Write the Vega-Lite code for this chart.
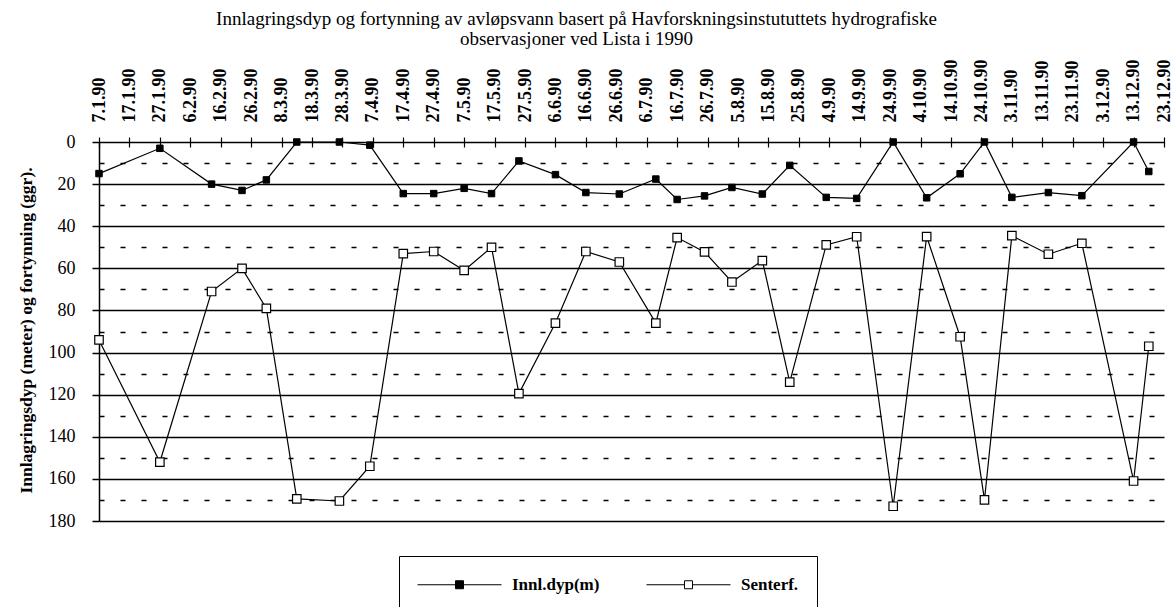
{
  "$schema": "https://vega.github.io/schema/vega-lite/v6.json",
  "width": 1065,
  "height": 379,
  "autosize": {"type": "none"},
  "padding": {"left": 99, "top": 142, "right": 9, "bottom": 86},
  "background": "white",
  "title": {
    "text": ["Innlagringsdyp og fortynning av avløpsvann basert på Havforskningsinstututtets hydrografiske", "observasjoner ved Lista i 1990"],
    "font": "Liberation Serif, Times New Roman, serif",
    "fontSize": 19,
    "fontWeight": "normal",
    "color": "black",
    "anchor": "middle",
    "dx": -55,
    "offset": 10,
    "lineHeight": 20
  },
  "config": {"view": {"stroke": null}, "font": "Liberation Serif, Times New Roman, serif"},
  "data": {
    "values": [
      {"dato": "1990-01-07", "serie": "Innl.dyp(m)", "verdi": 15},
      {"dato": "1990-01-27", "serie": "Innl.dyp(m)", "verdi": 3},
      {"dato": "1990-02-13", "serie": "Innl.dyp(m)", "verdi": 20},
      {"dato": "1990-02-23", "serie": "Innl.dyp(m)", "verdi": 23},
      {"dato": "1990-03-03", "serie": "Innl.dyp(m)", "verdi": 18},
      {"dato": "1990-03-13", "serie": "Innl.dyp(m)", "verdi": 0},
      {"dato": "1990-03-27", "serie": "Innl.dyp(m)", "verdi": 0},
      {"dato": "1990-04-06", "serie": "Innl.dyp(m)", "verdi": 1.5},
      {"dato": "1990-04-17", "serie": "Innl.dyp(m)", "verdi": 24.5},
      {"dato": "1990-04-27", "serie": "Innl.dyp(m)", "verdi": 24.5},
      {"dato": "1990-05-07", "serie": "Innl.dyp(m)", "verdi": 22},
      {"dato": "1990-05-16", "serie": "Innl.dyp(m)", "verdi": 24.5},
      {"dato": "1990-05-25", "serie": "Innl.dyp(m)", "verdi": 9},
      {"dato": "1990-06-06", "serie": "Innl.dyp(m)", "verdi": 15.5},
      {"dato": "1990-06-16", "serie": "Innl.dyp(m)", "verdi": 24},
      {"dato": "1990-06-27", "serie": "Innl.dyp(m)", "verdi": 24.7},
      {"dato": "1990-07-09", "serie": "Innl.dyp(m)", "verdi": 17.6},
      {"dato": "1990-07-16", "serie": "Innl.dyp(m)", "verdi": 27.3},
      {"dato": "1990-07-25", "serie": "Innl.dyp(m)", "verdi": 25.6},
      {"dato": "1990-08-03", "serie": "Innl.dyp(m)", "verdi": 21.6},
      {"dato": "1990-08-13", "serie": "Innl.dyp(m)", "verdi": 24.7},
      {"dato": "1990-08-22", "serie": "Innl.dyp(m)", "verdi": 11.1},
      {"dato": "1990-09-03", "serie": "Innl.dyp(m)", "verdi": 26.3},
      {"dato": "1990-09-13", "serie": "Innl.dyp(m)", "verdi": 26.8},
      {"dato": "1990-09-25", "serie": "Innl.dyp(m)", "verdi": 0},
      {"dato": "1990-10-06", "serie": "Innl.dyp(m)", "verdi": 26.5},
      {"dato": "1990-10-17", "serie": "Innl.dyp(m)", "verdi": 15.1},
      {"dato": "1990-10-25", "serie": "Innl.dyp(m)", "verdi": 0},
      {"dato": "1990-11-03", "serie": "Innl.dyp(m)", "verdi": 26.3},
      {"dato": "1990-11-15", "serie": "Innl.dyp(m)", "verdi": 24},
      {"dato": "1990-11-26", "serie": "Innl.dyp(m)", "verdi": 25.5},
      {"dato": "1990-12-13", "serie": "Innl.dyp(m)", "verdi": 0},
      {"dato": "1990-12-18", "serie": "Innl.dyp(m)", "verdi": 14},
      {"dato": "1990-01-07", "serie": "Senterf.", "verdi": 94},
      {"dato": "1990-01-27", "serie": "Senterf.", "verdi": 152},
      {"dato": "1990-02-13", "serie": "Senterf.", "verdi": 71},
      {"dato": "1990-02-23", "serie": "Senterf.", "verdi": 60},
      {"dato": "1990-03-03", "serie": "Senterf.", "verdi": 79},
      {"dato": "1990-03-13", "serie": "Senterf.", "verdi": 169.5},
      {"dato": "1990-03-27", "serie": "Senterf.", "verdi": 170.5},
      {"dato": "1990-04-06", "serie": "Senterf.", "verdi": 154},
      {"dato": "1990-04-17", "serie": "Senterf.", "verdi": 53},
      {"dato": "1990-04-27", "serie": "Senterf.", "verdi": 52},
      {"dato": "1990-05-07", "serie": "Senterf.", "verdi": 61},
      {"dato": "1990-05-16", "serie": "Senterf.", "verdi": 50},
      {"dato": "1990-05-25", "serie": "Senterf.", "verdi": 119.5},
      {"dato": "1990-06-06", "serie": "Senterf.", "verdi": 86},
      {"dato": "1990-06-16", "serie": "Senterf.", "verdi": 52},
      {"dato": "1990-06-27", "serie": "Senterf.", "verdi": 57},
      {"dato": "1990-07-09", "serie": "Senterf.", "verdi": 86},
      {"dato": "1990-07-16", "serie": "Senterf.", "verdi": 45.4},
      {"dato": "1990-07-25", "serie": "Senterf.", "verdi": 52.2},
      {"dato": "1990-08-03", "serie": "Senterf.", "verdi": 66.5},
      {"dato": "1990-08-13", "serie": "Senterf.", "verdi": 56.3},
      {"dato": "1990-08-22", "serie": "Senterf.", "verdi": 114},
      {"dato": "1990-09-03", "serie": "Senterf.", "verdi": 48.9},
      {"dato": "1990-09-13", "serie": "Senterf.", "verdi": 45},
      {"dato": "1990-09-25", "serie": "Senterf.", "verdi": 173},
      {"dato": "1990-10-06", "serie": "Senterf.", "verdi": 44.9},
      {"dato": "1990-10-17", "serie": "Senterf.", "verdi": 92.5},
      {"dato": "1990-10-25", "serie": "Senterf.", "verdi": 170},
      {"dato": "1990-11-03", "serie": "Senterf.", "verdi": 44.5},
      {"dato": "1990-11-15", "serie": "Senterf.", "verdi": 53.3},
      {"dato": "1990-11-26", "serie": "Senterf.", "verdi": 48.1},
      {"dato": "1990-12-13", "serie": "Senterf.", "verdi": 161},
      {"dato": "1990-12-18", "serie": "Senterf.", "verdi": 97}
    ]
  },
  "encoding": {
    "x": {
      "field": "dato",
      "type": "temporal",
      "scale": {
        "type": "utc",
        "domain": [{"year": 1990, "month": 1, "date": 7, "utc": true}, {"year": 1990, "month": 12, "date": 23, "utc": true}]
      },
      "axis": {
        "orient": "top",
        "title": null,
        "values": [
          {"year": 1990, "month": 1, "date": 7, "utc": true},
          {"year": 1990, "month": 1, "date": 17, "utc": true},
          {"year": 1990, "month": 1, "date": 27, "utc": true},
          {"year": 1990, "month": 2, "date": 6, "utc": true},
          {"year": 1990, "month": 2, "date": 16, "utc": true},
          {"year": 1990, "month": 2, "date": 26, "utc": true},
          {"year": 1990, "month": 3, "date": 8, "utc": true},
          {"year": 1990, "month": 3, "date": 18, "utc": true},
          {"year": 1990, "month": 3, "date": 28, "utc": true},
          {"year": 1990, "month": 4, "date": 7, "utc": true},
          {"year": 1990, "month": 4, "date": 17, "utc": true},
          {"year": 1990, "month": 4, "date": 27, "utc": true},
          {"year": 1990, "month": 5, "date": 7, "utc": true},
          {"year": 1990, "month": 5, "date": 17, "utc": true},
          {"year": 1990, "month": 5, "date": 27, "utc": true},
          {"year": 1990, "month": 6, "date": 6, "utc": true},
          {"year": 1990, "month": 6, "date": 16, "utc": true},
          {"year": 1990, "month": 6, "date": 26, "utc": true},
          {"year": 1990, "month": 7, "date": 6, "utc": true},
          {"year": 1990, "month": 7, "date": 16, "utc": true},
          {"year": 1990, "month": 7, "date": 26, "utc": true},
          {"year": 1990, "month": 8, "date": 5, "utc": true},
          {"year": 1990, "month": 8, "date": 15, "utc": true},
          {"year": 1990, "month": 8, "date": 25, "utc": true},
          {"year": 1990, "month": 9, "date": 4, "utc": true},
          {"year": 1990, "month": 9, "date": 14, "utc": true},
          {"year": 1990, "month": 9, "date": 24, "utc": true},
          {"year": 1990, "month": 10, "date": 4, "utc": true},
          {"year": 1990, "month": 10, "date": 14, "utc": true},
          {"year": 1990, "month": 10, "date": 24, "utc": true},
          {"year": 1990, "month": 11, "date": 3, "utc": true},
          {"year": 1990, "month": 11, "date": 13, "utc": true},
          {"year": 1990, "month": 11, "date": 23, "utc": true},
          {"year": 1990, "month": 12, "date": 3, "utc": true},
          {"year": 1990, "month": 12, "date": 13, "utc": true},
          {"year": 1990, "month": 12, "date": 23, "utc": true}
        ],
        "labelExpr": "utcFormat(datum.value, '%-d.%-m.%y')",
        "labelAngle": -90,
        "labelFont": "Liberation Serif, Times New Roman, serif",
        "labelFontWeight": "bold",
        "labelFontSize": 18,
        "labelColor": "black",
        "labelPadding": 15,
        "labelOverlap": false,
        "labelBound": false,
        "labelFlush": false,
        "tickSize": 10,
        "tickColor": "black",
        "tickWidth": 1.2,
        "offset": -5,
        "domain": false,
        "grid": false
      }
    },
    "y": {
      "field": "verdi",
      "type": "quantitative",
      "scale": {"domain": [0, 180], "reverse": true, "nice": false, "zero": false},
      "axis": {
        "values": [0, 10, 20, 30, 40, 50, 60, 70, 80, 90, 100, 110, 120, 130, 140, 150, 160, 170, 180],
        "labelExpr": "datum.value % 20 === 0 ? datum.label : ''",
        "labelFont": "Liberation Serif, Times New Roman, serif",
        "labelFontSize": 18,
        "labelColor": "black",
        "labelPadding": 17,
        "tickSize": 7,
        "tickColor": "black",
        "tickWidth": 1.5,
        "tickOpacity": {"condition": {"test": "datum.value % 20 === 10", "value": 0}, "value": 1},
        "grid": true,
        "gridColor": "black",
        "gridOpacity": 1,
        "gridWidth": 1.5,
        "gridDash": {"condition": {"test": "datum.value % 20 === 10", "value": [5, 16]}, "value": []},
        "domain": true,
        "domainColor": "black",
        "domainWidth": 1.5,
        "title": "Innlagringsdyp (meter) og fortynning (ggr).",
        "titleFont": "Liberation Serif, Times New Roman, serif",
        "titleFontWeight": "bold",
        "titleFontSize": 17.5,
        "titleColor": "black",
        "titleAngle": -90,
        "titleAlign": "center",
        "titleBaseline": "alphabetic",
        "titleX": -68,
        "titleY": 188
      }
    }
  },
  "layer": [
    {
      "mark": {"type": "line", "color": "black", "strokeWidth": 1.2},
      "encoding": {"detail": {"field": "serie"}}
    },
    {
      "transform": [{"filter": "datum.serie === 'Innl.dyp(m)'"}],
      "mark": {"type": "point", "shape": "square", "filled": true, "stroke": "black", "strokeWidth": 1, "opacity": 1, "size": 42},
      "encoding": {
        "fill": {
          "field": "serie",
          "type": "nominal",
          "scale": {"domain": ["Innl.dyp(m)", "Senterf."], "range": ["black", "white"]},
          "legend": {
            "orient": "none",
            "legendX": 300,
            "legendY": 414,
            "direction": "horizontal",
            "columns": 2,
            "gridAlign": "all",
            "title": null,
            "symbolType": "M-1,0H2.8M3.6,0H7.4M2.8,-0.4H3.6V0.4H2.8Z",
            "symbolSize": 400,
            "symbolStrokeColor": "black",
            "symbolStrokeWidth": 1,
            "labelFont": "Liberation Serif, Times New Roman, serif",
            "labelFontWeight": "bold",
            "labelFontSize": 17,
            "labelColor": "black",
            "labelOffset": 74,
            "columnPadding": 44,
            "padding": 18,
            "strokeColor": "black",
            "fillColor": "white"
          }
        }
      }
    },
    {
      "transform": [{"filter": "datum.serie === 'Senterf.'"}],
      "mark": {"type": "point", "shape": "square", "filled": true, "stroke": "black", "strokeWidth": 1.2, "opacity": 1, "size": 72},
      "encoding": {
        "fill": {
          "field": "serie",
          "type": "nominal",
          "scale": {"domain": ["Innl.dyp(m)", "Senterf."], "range": ["black", "white"]},
          "legend": {
            "orient": "none",
            "legendX": 300,
            "legendY": 414,
            "direction": "horizontal",
            "columns": 2,
            "gridAlign": "all",
            "title": null,
            "symbolType": "M-1,0H2.8M3.6,0H7.4M2.8,-0.4H3.6V0.4H2.8Z",
            "symbolSize": 400,
            "symbolStrokeColor": "black",
            "symbolStrokeWidth": 1,
            "labelFont": "Liberation Serif, Times New Roman, serif",
            "labelFontWeight": "bold",
            "labelFontSize": 17,
            "labelColor": "black",
            "labelOffset": 74,
            "columnPadding": 44,
            "padding": 18,
            "strokeColor": "black",
            "fillColor": "white"
          }
        }
      }
    }
  ]
}
